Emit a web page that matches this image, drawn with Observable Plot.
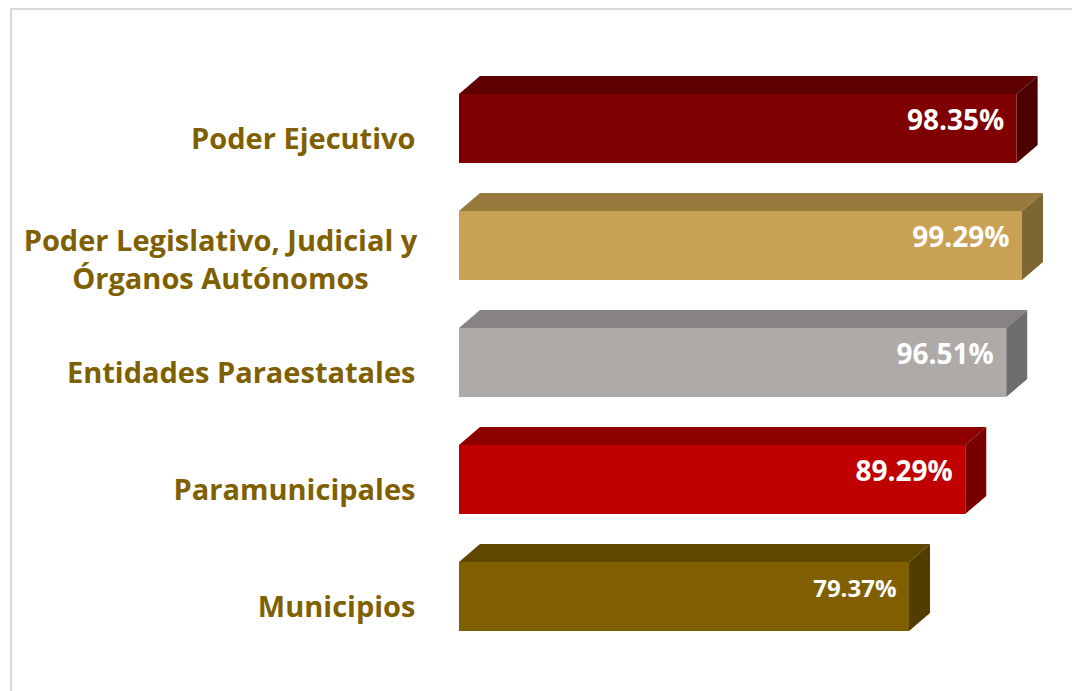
<!DOCTYPE html>
<html>
<head>
<meta charset="utf-8">
<script src="https://cdn.jsdelivr.net/npm/d3@7"></script>
<script src="https://cdn.jsdelivr.net/npm/@observablehq/plot@0.6"></script>
<style>
  html, body { margin: 0; padding: 0; background: #ffffff; }
  #wrap { position: relative; width: 1072px; height: 691px; overflow: hidden; }
  #border { position: absolute; left: 10px; top: 8px; width: 1100px; height: 720px;
            border-left: 2px solid #d9d9d9; border-top: 2px solid #d9d9d9; }
  #chart { position: absolute; left: 0; top: 0; }
</style>
</head>
<body>
<div id="wrap">
  <div id="border"></div>
  <div id="chart"></div>
</div>
<script>
// ---- data ----
const categories = [
  "Poder Ejecutivo",
  "Poder Legislativo, Judicial y\nÓrganos Autónomos",
  "Entidades Paraestatales",
  "Paramunicipales",
  "Municipios"
];
const values = [98.35, 99.29, 96.51, 89.29, 79.37];
const valueLabels = ["98.35%", "99.29%", "96.51%", "89.29%", "79.37%"];

// ---- styles ----
const frontColors = ["#7f0000", "#c9a154", "#aeaaa8", "#c00000", "#7f5f00"];
const topColors   = ["#5f0000", "#987a3d", "#878382", "#8e0000", "#5f4700"];
const sideColors  = ["#4e0000", "#7e6634", "#706d6d", "#780000", "#523d00"];
const labelColor = "#7f6000";
const DX = 21, DY = 18;

const data = categories.map((c, i) => ({
  category: c, value: values[i], label: valueLabels[i],
  front: frontColors[i], top: topColors[i], side: sideColors[i]
}));

function depthFaces(index, scales) {
  const x = scales.x, y = scales.y;
  let bw = typeof y.bandwidth === "function" ? y.bandwidth() : y.bandwidth;
  if (!(bw > 0)) bw = (y(categories[1]) - y(categories[0])) * (1 - 0.4128);
  const g = d3.create("svg:g");
  for (const d of data) {
    const x0 = x(0), x1 = x(d.value), y0 = y(d.category), y1 = y0 + bw;
    g.append("polygon")
      .attr("points", [[x0, y0], [x0 + DX, y0 - DY], [x1 + DX, y0 - DY], [x1, y0]].map(p => p.join(",")).join(" "))
      .attr("fill", d.top);
    g.append("polygon")
      .attr("points", [[x1, y0], [x1 + DX, y0 - DY], [x1 + DX, y1 - DY], [x1, y1]].map(p => p.join(",")).join(" "))
      .attr("fill", d.side);
  }
  return g.node();
}

const multi = categories.filter(c => c.includes("\n"));

const chart = Plot.plot({
  width: 1072,
  height: 691,
  marginLeft: 459,
  marginRight: 46,
  marginTop: 68.75,
  marginBottom: 34.75,
  style: { fontFamily: "'Open Sans', Lato, sans-serif", background: "transparent" },
  x: { domain: [0, 100], axis: null },
  y: { domain: categories, paddingInner: 0.4128, paddingOuter: 0.2064, axis: null },
  color: { domain: categories, range: frontColors },
  marks: [
    depthFaces,
    Plot.barX(data, { x: "value", y: "category", fill: "category" }),
    Plot.text(data, {
      x: "value", y: "category", text: "label",
      textAnchor: "end", dx: -13, dy: -8,
      fill: "white", fontWeight: "bold",
      fontSize: d => d.value < 80 ? 24 : 28
    }),
    Plot.axisY({
      tickSize: 0, tickPadding: 44, label: null,
      tickFormat: d => d.includes("\n") ? "" : d,
      fontSize: 29, fontWeight: "bold", color: labelColor, dy: 11
    }),
    Plot.text(multi, {
      y: d => d, text: d => d, frameAnchor: "left",
      dx: -239, dy: 12, textAnchor: "middle", lineHeight: 1.29,
      fontSize: 29, fontWeight: "bold", fill: labelColor
    })
  ]
});
document.getElementById("chart").appendChild(chart);
</script>
</body>
</html>
